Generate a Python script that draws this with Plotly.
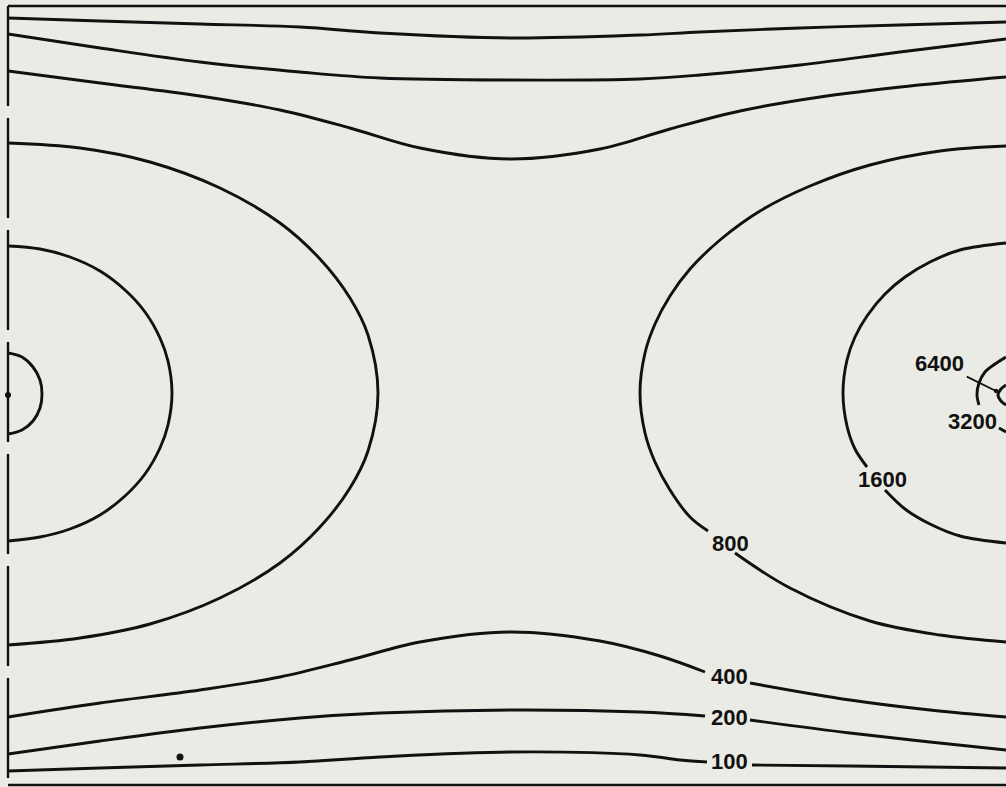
import plotly.graph_objects as go

# Iso-dose levels drawn on the map
LEVELS = [100, 200, 400, 800, 1600, 3200, 6400]

# Iso-lines, x measured from the left source, y from the lower wall (plot units).
# None breaks a line where its level label is written.
iso100_top_x = [0, 92, 192, 292, 372, 502, 632, 692, 792, 892, 998]
iso100_top_y = [766, 763, 760, 757, 751, 746, 749, 752, 756, 759, 762]
iso100_bot_x = [0, 92, 192, 292, 372, 502, 632, 672, 699, None, 744, 842, 998]
iso100_bot_y = [13, 16, 19, 22, 27, 32, 29, 24, 22, None, 19, 18, 16]

iso200_top_x = [0, 92, 192, 292, 372, 502, 632, 692, 792, 892, 998]
iso200_top_y = [750, 736, 722, 712, 706, 704, 705, 709, 719, 732, 745]
iso200_bot_x = [0, 92, 192, 292, 372, 502, 632, 697, None, 742, 842, 922, 998]
iso200_bot_y = [30, 43, 56, 66, 71, 74, 72, 68, None, 64, 51, 42, 34]

iso400_top_x = [0, 92, 192, 272, 342, 412, 502, 592, 662, 732, 812, 902, 998]
iso400_top_y = [713, 701, 688, 674, 656, 636, 625, 635, 655, 673, 687, 698, 707]
iso400_bot_x = [0, 92, 192, 272, 342, 412, 502, 592, 652, 697, None, 742, 842, 922, 998]
iso400_bot_y = [67, 81, 94, 107, 124, 142, 152, 143, 128, 112, None, 101, 84, 74, 67]

iso800_left_x = [0, 72, 142, 212, 272, 312, 342, 360, 370, 360, 342, 312, 272, 212, 142, 72, 0]
iso800_left_y = [641, 636, 622, 596, 561, 525, 486, 449, 391, 333, 296, 257, 221, 186, 160, 146, 139]
iso800_right_x = [998, 932, 862, 802, 752, 712, 682, 662, 647, 637, 632, 637, 647, 662, 682, 700,
                  None, 727, 782, 862, 932, 998]
iso800_right_y = [638, 633, 619, 598, 573, 544, 515, 488, 460, 431, 391, 351, 322, 294, 267, 253,
                  None, 231, 196, 163, 149, 142]

iso1600_left_x = [0, 32, 62, 92, 117, 137, 152, 160, 164, 160, 152, 137, 117, 92, 62, 32, 0]
iso1600_left_y = [538, 535, 527, 513, 494, 472, 446, 423, 391, 359, 336, 310, 288, 269, 255, 247, 243]
iso1600_right_x = [998, 952, 922, 897, 877, 859, 847, 839, 835, 839, 847, 859,
                   None, 877, 897, 922, 952, 998]
iso1600_right_y = [541, 534, 522, 507, 490, 468, 447, 424, 391, 358, 335, 317,
                   None, 294, 275, 260, 248, 241]

iso3200_left_x = [0, 14, 25, 32, 34, 32, 25, 14, 0]
iso3200_left_y = [431, 427, 417, 404, 390, 376, 363, 354, 350]
iso3200_right_x = [998, 987, 977, 971, 969, 971, None, 991, 998]
iso3200_right_y = [427, 420, 412, 401, 389, 379, None, 356, 352]

iso6400_right_x = [998, 993, 990, 993, 998]
iso6400_right_y = [399, 395, 389, 383, 379]

# Source point on the left wall and an isolated measuring point
source_x = [0]
source_y = [389]
probe_x = [172]
probe_y = [27]

# Label anchors, one per level
label_level = [100, 200, 400, 800, 1600, 3200, 6400]
label_x = [721, 721, 721, 722, 874, 964, 931]
label_y = [23, 67, 108, 241, 305, 363, 421]
# Leader from the 6400 label to its small ring
leader_tip_x = 988
leader_tip_y = 393

PAPER = "#ebebe5"
INK = "#111111"
LW = 2.9

lines = [
    (iso100_top_x, iso100_top_y), (iso100_bot_x, iso100_bot_y),
    (iso200_top_x, iso200_top_y), (iso200_bot_x, iso200_bot_y),
    (iso400_top_x, iso400_top_y), (iso400_bot_x, iso400_bot_y),
    (iso800_left_x, iso800_left_y), (iso800_right_x, iso800_right_y),
    (iso1600_left_x, iso1600_left_y), (iso1600_right_x, iso1600_right_y),
    (iso3200_left_x, iso3200_left_y), (iso3200_right_x, iso3200_right_y),
    (iso6400_right_x, iso6400_right_y),
]

fig = go.Figure()
for xs, ys in lines:
    fig.add_trace(go.Scatter(
        x=xs, y=ys, mode="lines", connectgaps=False,
        line=dict(color=INK, width=LW, shape="spline", smoothing=1.0),
        hoverinfo="skip", showlegend=False,
    ))

fig.add_trace(go.Scatter(
    x=source_x, y=source_y, mode="markers", cliponaxis=False,
    marker=dict(color=INK, size=6), hoverinfo="skip", showlegend=False,
))
fig.add_trace(go.Scatter(
    x=probe_x, y=probe_y, mode="markers",
    marker=dict(color=INK, size=7), hoverinfo="skip", showlegend=False,
))

label_font = dict(family="Liberation Sans, Arial, sans-serif", size=22, color=INK)
for lev, lx, ly in zip(label_level, label_x, label_y):
    if lev == LEVELS[-1]:
        fig.add_annotation(
            x=leader_tip_x, y=leader_tip_y, ax=lx, ay=ly, axref="x", ayref="y",
            xref="x", yref="y", text=f"<b>{lev}</b>", font=label_font,
            showarrow=True, arrowhead=6, arrowsize=0.6, arrowwidth=1.8,
            arrowcolor=INK, standoff=0, startstandoff=2,
        )
    else:
        fig.add_annotation(
            x=lx, y=ly, xref="x", yref="y", text=f"<b>{lev}</b>",
            font=label_font, showarrow=False,
        )

# Frame: solid top and bottom walls, broken line along the left edge
frame = dict(color=INK, width=2.6)
fig.add_shape(type="line", xref="paper", yref="paper", x0=0, x1=1, y0=1, y1=1, line=frame)
fig.add_shape(type="line", xref="paper", yref="paper", x0=0, x1=1, y0=0, y1=0, line=frame)
fig.add_shape(type="line", xref="paper", yref="paper", x0=0, x1=0, y0=1, y1=0,
              line=dict(color=INK, width=2.4, dash="100px,12px"))

fig.update_layout(
    width=1006, height=787,
    margin=dict(l=8, r=0, t=6, b=2),
    paper_bgcolor=PAPER, plot_bgcolor=PAPER,
    xaxis=dict(range=[0, 998], visible=False, fixedrange=True),
    yaxis=dict(range=[-1, 778], visible=False, fixedrange=True),
    showlegend=False,
)

fig.write_html("out.html")
